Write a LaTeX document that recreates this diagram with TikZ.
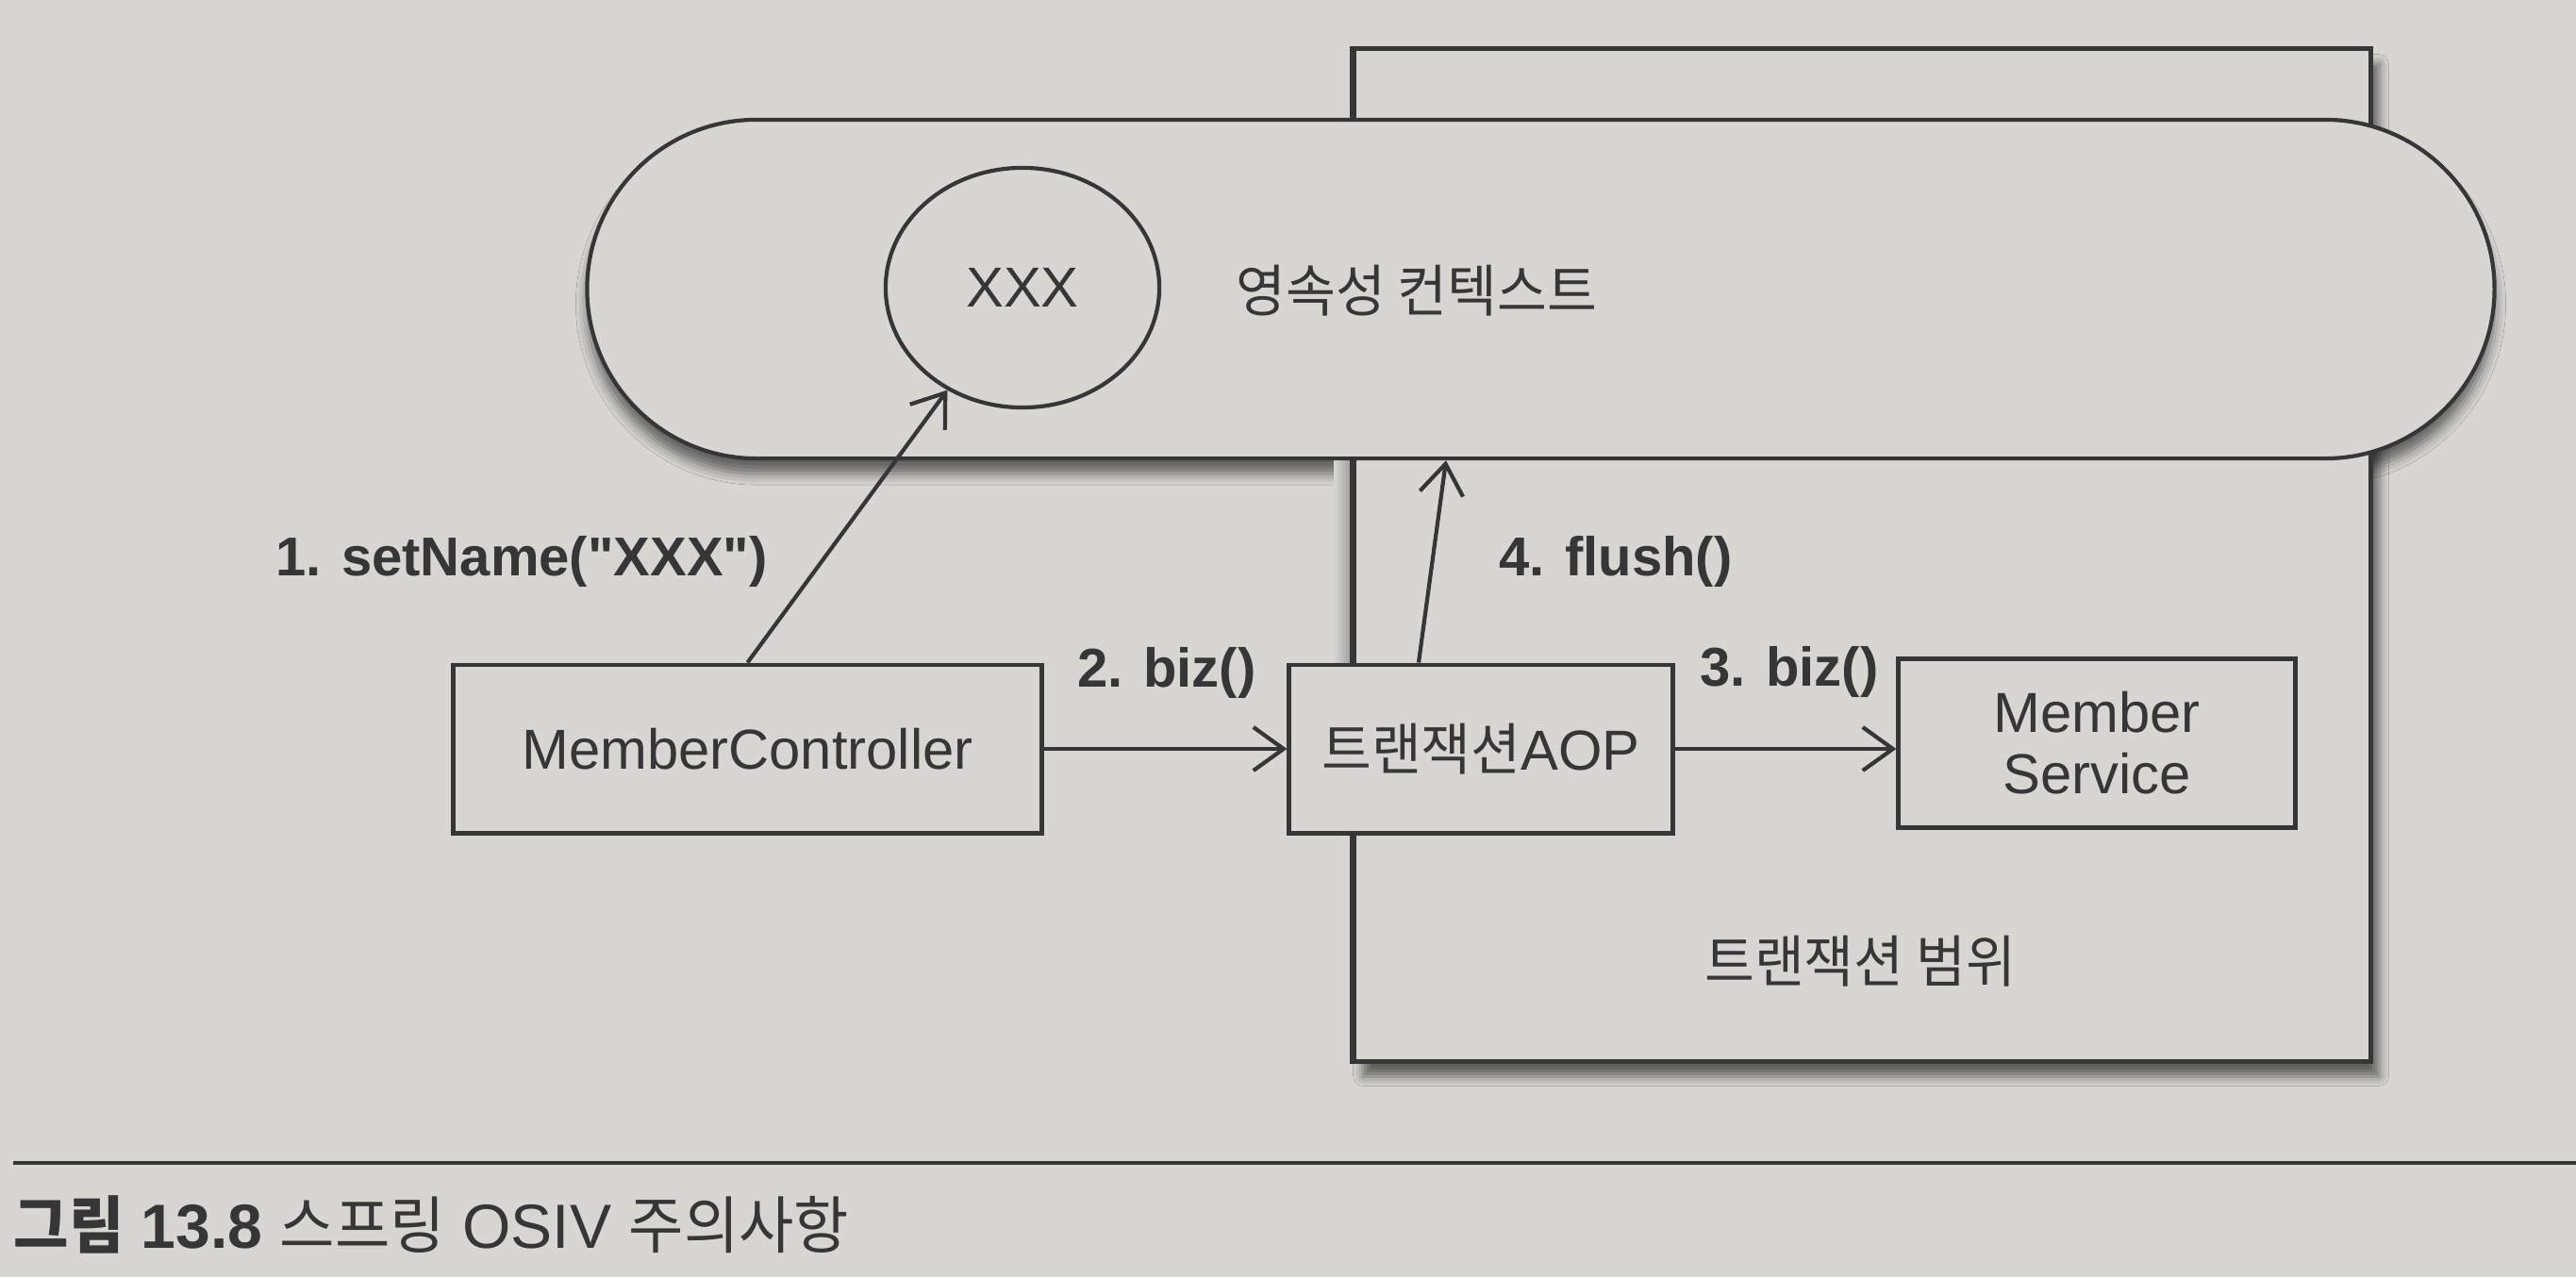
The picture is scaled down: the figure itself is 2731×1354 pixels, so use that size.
\documentclass[tikz,border=0pt]{standalone}
\usepackage{fontspec}
\setmainfont{Liberation Sans}[Ligatures=TeXOff]
\newfontfamily\kr[FakeStretch=0.96]{Noto Sans CJK KR}
\usetikzlibrary{arrows.meta,shapes.geometric,shadows.blur,calc}
\definecolor{paper}{HTML}{D7D6D3}
\definecolor{ink}{HTML}{363636}
\tikzset{
  box/.style={draw=ink, line width=1.4pt, fill=paper, inner sep=0pt, text=ink,
    font=\fontsize{17pt}{18.5pt}\selectfont, align=center},
  arr/.style={draw=ink, line width=1.2pt, -{Straight Barb[length=3.2mm,width=4.6mm,line width=1.2pt]}},
  lbl/.style={font=\fontsize{16.5pt}{18pt}\selectfont\bfseries, text=ink, inner sep=0pt, anchor=base},
  plain/.style={font=\fontsize{17pt}{18.5pt}\selectfont, text=ink, inner sep=0pt},
  stad/.style={rounded corners=1.795cm, minimum width=20.21cm, minimum height=3.59cm, inner sep=0pt},
  shad/.style={blur shadow={shadow xshift=0cm, shadow yshift=-0.16cm, shadow blur radius=0.12cm, shadow opacity=55}}
}
\begin{document}
\begin{tikzpicture}[x=0.01cm, y=-0.01cm]
\useasboundingbox (0,0) rectangle (2731,1354);
\fill[paper] (0,0) rectangle (2731,1354);

% stadium shadow (drawn below the transaction range)
\node[stad, shad, fill=paper] (pcshadow) at (1633.5,306.5) {};

% transaction range
\node[rectangle, draw=ink, line width=1.4pt, fill=paper, minimum width=10.77cm, minimum height=10.73cm,
      blur shadow={shadow xshift=0.09cm, shadow yshift=-0.16cm, shadow blur radius=0.1cm, shadow opacity=55}]
      (tr) at (1974.5,588.5) {};
\shade[left color=paper, right color=black!40] (1414,488) rectangle (1434,705);
\draw[ink, line width=1.4pt] (tr.north west) -- (tr.south west);

% persistence context
\node[stad, draw=ink, line width=1.2pt, fill=paper] (pc) at (1633.5,306.5) {};
\node[ellipse, draw=ink, line width=1.2pt, fill=paper, minimum width=2.9cm, minimum height=2.54cm,
      inner sep=0pt, plain] (xxx) at (1084,305) {XXX};
\node[plain] (pclabel) at (1502,308) {\kr 영속성 컨텍스트};

% boxes
\node[box, minimum width=6.23cm, minimum height=1.78cm] (mc) at (792.5,794) {MemberController};
\node[box, minimum width=4.06cm, minimum height=1.78cm] (aop) at (1570,794) {{\kr 트랜잭션}AOP};
\node[box, minimum width=4.2cm, minimum height=1.79cm] (ms) at (2223,788) {Member\\Service};

\node[plain] (trlabel) at (1972,1019) {\kr 트랜잭션 범위};

% connectors
\draw[arr] (mc.north) -- (xxx);
\draw[arr] (mc.east) -- (aop.west);
\draw[arr] (aop.east) -- (aop.east -| ms.west);
\coordinate (f4s) at ($(aop.north)+(-66,0)$);
\coordinate (f4x) at (1533,0);
\draw[arr] (f4s) -- (f4x |- pc.south);

% labels
\node[lbl] (l1) at (553,610) {1. setName("XXX")};
\node[lbl] (l2) at (1237,728) {2. biz()};
\node[lbl] (l3) at (1897,727) {3. biz()};
\node[lbl] (l4) at (1713,610) {4. flush()};

% caption
\coordinate (rulel) at (14,1233);
\coordinate (ruler) at (2731,1233);
\draw[ink, line width=1.1pt] (rulel) -- (ruler);
\node[anchor=base west, inner sep=0pt, text=ink, font=\fontsize{18.8pt}{20pt}\selectfont] (cap) at (14,1323)
  {{\bfseries\kr 그림} {\bfseries 13.8} {\kr 스프링} OSIV {\kr 주의사항}};
\end{tikzpicture}
\end{document}
